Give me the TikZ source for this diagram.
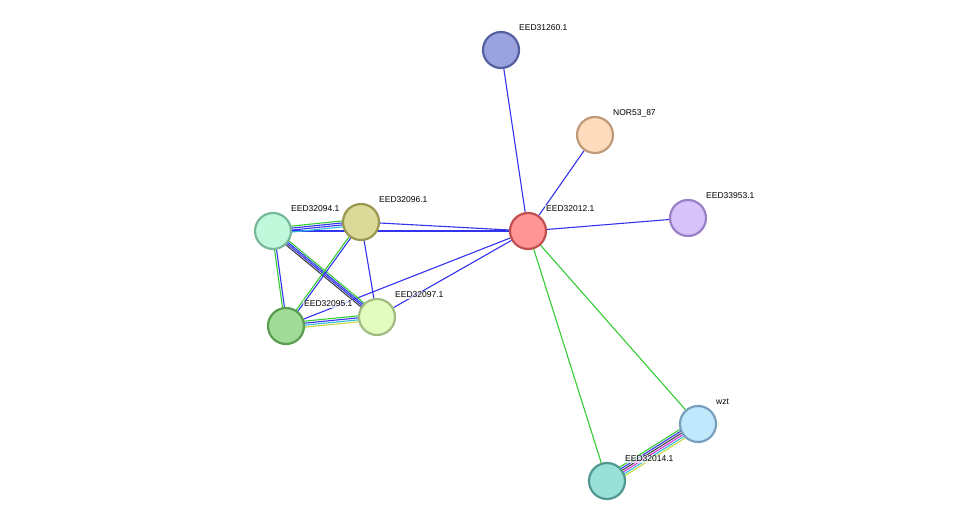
\documentclass[tikz,border=0pt]{standalone}
\usepackage{fontspec}
\setmainfont{Liberation Sans}
\usetikzlibrary{calc,backgrounds}
\definecolor{eb}{HTML}{3333EE}
\definecolor{eg}{HTML}{33CC33}
\definecolor{ec}{HTML}{33BBDD}
\definecolor{ek}{HTML}{444444}
\definecolor{em}{HTML}{DD33DD}
\definecolor{ey}{HTML}{C8D840}
\tikzset{
 prot/.code 2 args={\definecolor{pf}{HTML}{#1}\definecolor{pd}{HTML}{#2}\pgfkeysalso{circle,minimum size=36pt,inner sep=0pt,line width=2.2pt,fill=pf,draw=pd}},
 lab/.style={anchor=west,font=\fontsize{8.5pt}{10pt}\selectfont,fill=white,fill opacity=0.7,text opacity=1,inner sep=1pt},
 ed/.style={line width=1.1pt}
}
\newcommand{\medge}[3]{\foreach \o/\c in {#3}{\draw[ed,\c] ($(#1)!\o pt!90:(#2)$) -- ($(#2)!\o pt!-90:(#1)$);}}
\begin{document}
\begin{tikzpicture}[x=1pt,y=-1pt]
\useasboundingbox (0,0) rectangle (975,526);
\node[prot={9AA3E0}{5560A0}] (a) at (501,50) {};
\node[prot={FDDCBE}{C09A78}] (b) at (595,135) {};
\node[prot={D5C3FA}{9A80C8}] (c) at (688,218) {};
\node[prot={FF9595}{C05050}] (d) at (528,231) {};
\node[prot={C0F8DC}{78B898}] (e) at (273,231) {};
\node[prot={DCDA98}{9A9850}] (f) at (361,222) {};
\node[prot={A0DC98}{5A9C50}] (g) at (286,326) {};
\node[prot={E2FCC0}{A0BC80}] (h) at (377,317) {};
\node[prot={C0E8FC}{78A0BC}] (i) at (698,424) {};
\node[prot={98E0D8}{509890}] (j) at (607,481) {};
\begin{scope}[on background layer]
\foreach \t in {a,b,c,e,f,g,h} \draw[ed,eb] (d) -- (\t);
\draw[ed,eg] (d) -- (i); \draw[ed,eg] (d) -- (j);
\draw[ed,eb] (f) -- (h);
\medge{e}{f}{-3/ec,-1/eb,1/eb,3/eg}
\medge{e}{g}{-1/eg,1/eb}
\medge{e}{h}{-2.5/ek,-0.8/eb,0.8/eb,2.5/eg}
\medge{f}{g}{-1/eg,1/eb}
\medge{g}{h}{-3/ey,-1/ec,1/eb,3/eg}
\medge{i}{j}{-5/eg,-3/eb,-1/ek,1/em,3/ec,5/ey}
\end{scope}
\node[lab] at ($(a)+(17,-22)$) {EED31260.1};
\node[lab] at ($(b)+(17,-22)$) {NOR53\_87};
\node[lab] at ($(c)+(17,-22)$) {EED33953.1};
\node[lab] at ($(d)+(17,-22)$) {EED32012.1};
\node[lab] at ($(e)+(17,-22)$) {EED32094.1};
\node[lab] at ($(f)+(17,-22)$) {EED32096.1};
\node[lab] at ($(g)+(17,-22)$) {EED32095.1};
\node[lab] at ($(h)+(17,-22)$) {EED32097.1};
\node[lab] at ($(i)+(17,-22)$) {wzt};
\node[lab] at ($(j)+(17,-22)$) {EED32014.1};
\end{tikzpicture}
\end{document}
